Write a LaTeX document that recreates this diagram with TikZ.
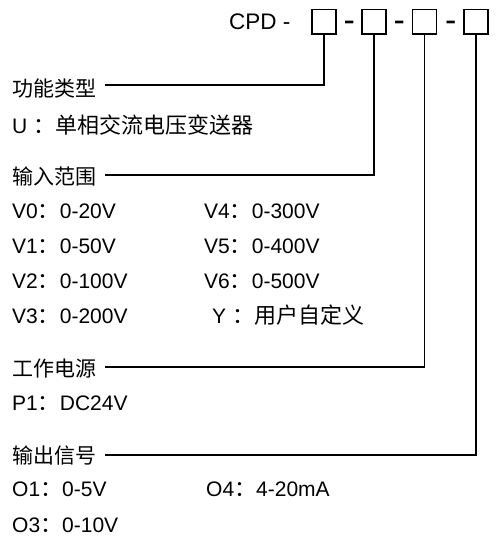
\documentclass[tikz,border=0pt]{standalone}
\usepackage{fontspec}
\setmainfont{Liberation Sans}
\newfontfamily\cjk[Scale=1.0476]{Noto Sans CJK SC}
\newfontfamily\cjkh{Noto Sans CJK SC}
\begin{document}
\begin{tikzpicture}[x=1pt,y=-1pt,
  txt/.style={anchor=base west, inner sep=0pt, font=\fontsize{21}{24}\selectfont},
  head/.style={anchor=base west, inner sep=0pt, font=\fontsize{21}{24}\selectfont\cjkh},
  dashtxt/.style={anchor=base west, inner sep=0pt, font=\fontsize{34}{38}\selectfont},
  codebox/.style={draw, line width=1.6pt, minimum width=24pt, minimum height=24.5pt, inner sep=0pt},
  lead/.style={line width=1.1pt}]
\useasboundingbox[fill=white] (0,0) rectangle (500,548);
% code line
\node[txt, font=\fontsize{22.5}{26}\selectfont] (cpd) at (229,30) {CPD -};
\node[codebox] (b1) at (324,21.7) {};
\node[codebox] (b2) at (374,21.7) {};
\node[codebox] (b3) at (424.5,21.7) {};
\node[codebox] (b4) at (476,21.7) {};
\node[dashtxt] (d1) at (343.5,32) {-};
\node[dashtxt] (d2) at (393.5,32) {-};
\node[dashtxt] (d3) at (445,32) {-};
% headers
\node[head] (h1) at (12,97) {功能类型};
\node[head] (h2) at (12,184.5) {输入范围};
\node[head] (h3) at (12,376) {工作电源};
\node[head] (h4) at (12,463) {输出信号};
\coordinate (s1) at (105,85);
\coordinate (s2) at (105,175);
\coordinate (s3) at (105,367);
\coordinate (s4) at (105,455);
\draw[lead] (s1) -| (b1.south);
\draw[lead] (s2) -| (b2.south);
\draw[lead] (s3) -| (b3.south);
\draw[lead] (s4) -| (b4.south);
% items
\node[txt] (u) at (12,134) {U {\cjk ：单相交流电压变送器}};
\node[txt] (v0) at (12,218) {V0{\cjk ：}0-20V};
\node[txt] (v1) at (12,253) {V1{\cjk ：}0-50V};
\node[txt] (v2) at (12,288) {V2{\cjk ：}0-100V};
\node[txt] (v3) at (12,323.5) {V3{\cjk ：}0-200V};
\node[txt] (v4) at (204,218) {V4{\cjk ：}0-300V};
\node[txt] (v5) at (204,253) {V5{\cjk ：}0-400V};
\node[txt] (v6) at (204,288) {V6{\cjk ：}0-500V};
\node[txt] (vy) at (212,323.5) {Y {\cjk ：用户自定义}};
\node[txt] (p1) at (12,410.5) {P1{\cjk ：}DC24V};
\node[txt] (o1) at (12,496) {O1{\cjk ：}0-5V};
\node[txt] (o4) at (206,496) {O4{\cjk ：}4-20mA};
\node[txt] (o3) at (12,532) {O3{\cjk ：}0-10V};
\end{tikzpicture}
\end{document}
